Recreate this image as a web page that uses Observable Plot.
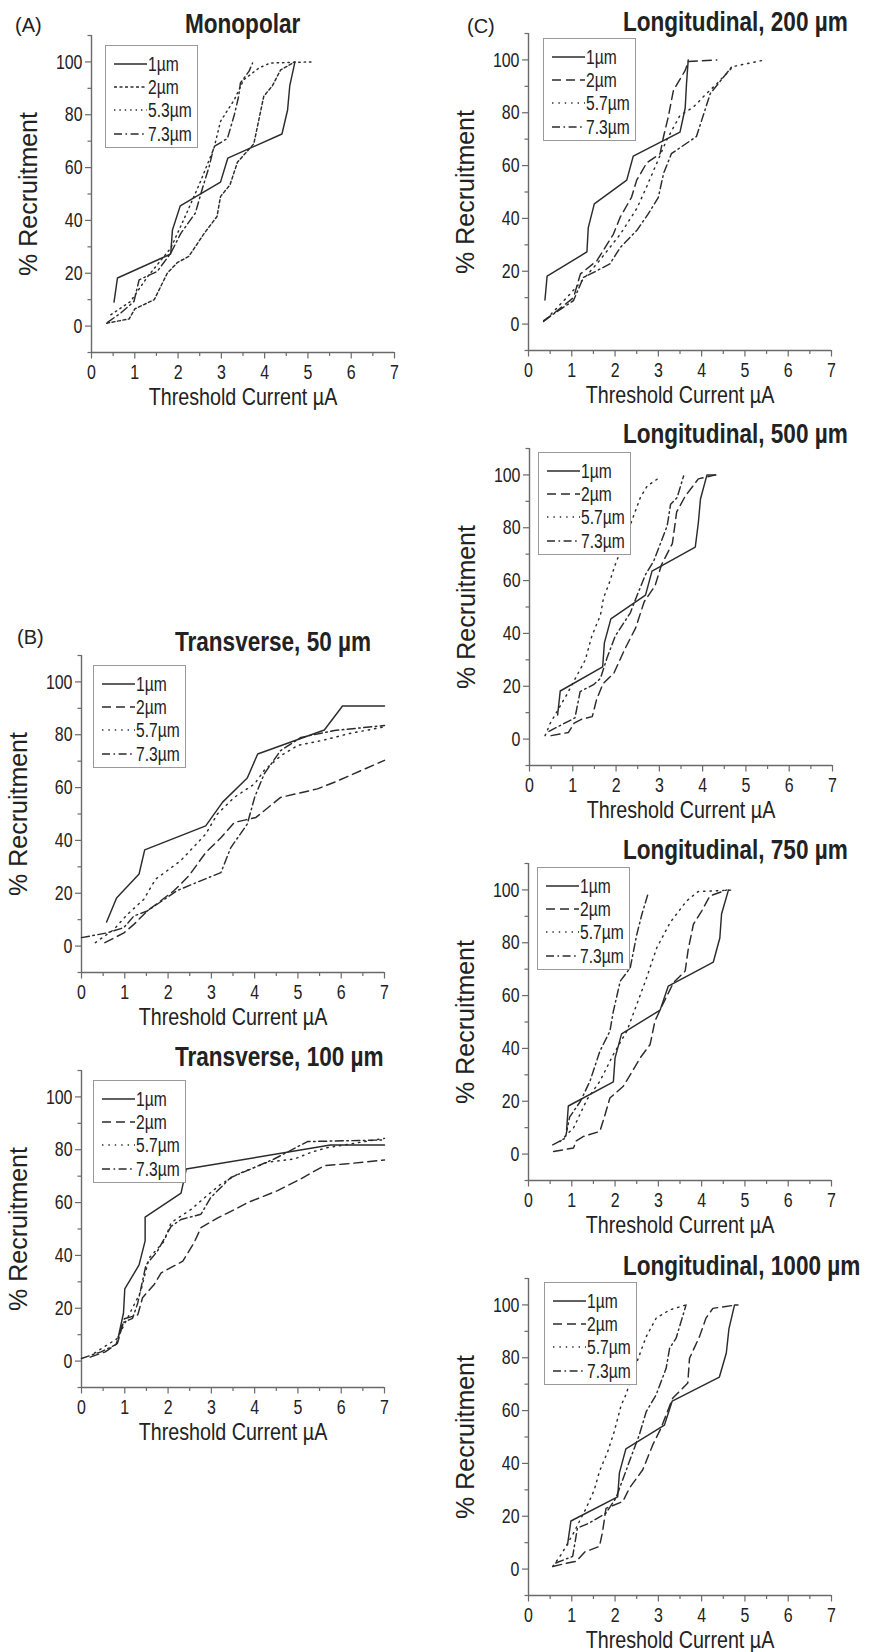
<!DOCTYPE html>
<html><head><meta charset="utf-8">
<script src="https://cdn.jsdelivr.net/npm/d3@7"></script>
<script src="https://cdn.jsdelivr.net/npm/@observablehq/plot@0.6"></script>
<style>
body{margin:0;background:#fff;}
#page{position:relative;width:874px;height:1652px;overflow:hidden;background:#fff;}
.t{position:absolute;white-space:nowrap;line-height:1;color:#222;font-family:"Liberation Sans",Arial,Helvetica,sans-serif;}
.leg{position:absolute;border:1.5px solid #9a9a9a;box-sizing:border-box;background:#fff;}
.plot{position:absolute;}
</style></head><body><div id="page"></div><script>
// ---------- tick values ----------
const xMajor = [0,1,2,3,4,5,6,7];
const xMinor = [0.5,1.5,2.5,3.5,4.5,5.5,6.5];
const yMajor = [0,20,40,60,80,100];
const yMinor = [-10,10,30,50,70,90,110];

// ---------- legend labels ----------
const monoLabels = ["1µm","2µm","5.3µm","7.3µm"];
const otherLabels = ["1µm","2µm","5.7µm","7.3µm"];

// ---------- data: [threshold current µA, % recruitment] ----------
const mono_1 = [[0.52,9.1],[0.6,18.2],[1.83,27.3],[1.87,36.4],[2.05,45.5],[2.98,54.5],[3.15,63.6],[4.4,72.7],[4.53,81.8],[4.58,90.9],[4.7,100]];
const mono_2 = [[0.35,1.1],[0.87,2.7],[1.0,6.5],[1.45,10],[1.75,20],[1.98,24],[2.25,26.4],[2.6,35],[2.9,41.5],[2.98,49],[3.2,53.5],[3.37,62],[3.75,69],[3.98,87],[4.18,91],[4.37,97],[4.7,100]];
const mono_53 = [[0.45,4.3],[0.9,9.3],[1.3,18.8],[1.83,29.5],[2.2,42.8],[2.52,54.8],[2.83,67.4],[2.98,77.5],[3.3,85.7],[3.52,93.3],[3.87,97.7],[4.13,99.6],[5.1,100]];
const mono_73 = [[0.37,1.4],[0.68,5],[0.98,9.3],[1.1,17.5],[1.52,20.7],[1.83,27.6],[2.06,35],[2.4,42.8],[2.56,52],[2.72,60.5],[2.83,68],[3.14,71],[3.3,80],[3.4,87],[3.44,92],[3.64,96.5],[3.72,99.6]];

const t50_1 = [[0.58,9.1],[0.81,18.2],[1.33,27.3],[1.46,36.4],[2.87,45.5],[3.26,54.5],[3.83,63.6],[4.07,72.7],[5.61,81.8],[6.03,90.9],[7,90.9]];
const t50_2 = [[0.54,1.3],[0.98,5],[1.21,8.2],[1.52,13.3],[2.14,21],[2.48,26.6],[2.87,35.4],[3.22,41],[3.53,46.8],[4.03,48.7],[4.6,56.3],[5.45,59.5],[5.84,62],[7,70.3]];
const t50_57 = [[0.32,1.3],[0.75,6.3],[1.06,12],[1.44,17.7],[1.71,25.3],[2.29,32.3],[2.87,42.4],[3.14,50],[3.53,56.3],[4.0,61.4],[4.22,66.5],[4.6,72],[5.0,76],[5.6,78],[6.2,80.5],[7,83]];
const t50_73 = [[0,3.2],[0.59,5],[0.98,7],[1.21,11.4],[1.52,13.3],[2.21,21],[2.75,24.7],[3.22,27.8],[3.45,37.3],[3.83,46.2],[4.0,56.3],[4.22,65.2],[4.6,74],[5.07,79],[5.84,81.6],[7,83.5]];

const t100_1 = [[0.85,9.1],[0.97,18.2],[1.0,27.3],[1.33,36.4],[1.47,45.5],[1.47,54.5],[2.3,63.6],[2.42,72.7],[5.75,81.8],[7,81.8]];
const t100_2 = [[0.2,1.5],[0.55,3.5],[0.83,6.7],[0.99,16],[1.3,17.5],[1.41,24],[1.68,29],[1.84,33.4],[2.34,37.8],[2.6,44.8],[2.76,50.5],[3.16,54.3],[3.55,57.5],[3.84,60],[4.53,64.5],[5.07,69],[5.61,74],[6.08,74.6],[7,76.1]];
const t100_57 = [[0.3,3],[0.83,8.6],[1.06,16.2],[1.37,26.4],[1.56,39],[1.91,45.4],[2.07,52.4],[2.54,57.5],[2.76,60.7],[3.22,67],[3.61,70.8],[4.3,75.3],[4.92,76.5],[5.3,79],[5.65,80.7],[7,84.3]];
const t100_73 = [[0,1],[0.45,3.5],[0.8,6.3],[0.95,14.5],[1.18,16.2],[1.3,22],[1.49,36.4],[1.75,41.5],[2.07,51],[2.3,53.6],[2.76,55.6],[2.99,62],[3.45,69.5],[3.91,72.7],[4.45,76.5],[4.92,80.5],[5.22,83.1],[7,83.7]];

const l200_1 = [[0.38,9.1],[0.43,18.2],[1.35,27.3],[1.38,36.4],[1.52,45.5],[2.27,54.5],[2.42,63.6],[3.5,72.7],[3.62,81.8],[3.65,90.9],[3.69,100]];
const l200_2 = [[0.35,1],[1.04,10],[1.2,19],[1.58,24],[1.96,34],[2.12,40.5],[2.38,48],[2.5,54.5],[2.73,61],[3.04,64.5],[3.12,71],[3.23,78.5],[3.35,88.6],[3.62,96],[3.69,99.4],[4.35,100]];
const l200_57 = [[0.42,2],[0.96,11.4],[1.58,22.8],[2.12,34],[2.5,43.7],[2.73,52],[2.96,60.8],[3.19,69.6],[3.5,79],[3.8,82],[4.08,86.7],[4.35,91],[4.73,97.5],[5.46,100]];
const l200_73 = [[0.35,1.3],[1.04,8.9],[1.27,17.7],[1.58,20.2],[1.88,22.8],[2.12,29],[2.5,35.4],[2.77,41.8],[3.0,48],[3.12,57],[3.3,64.5],[3.88,71],[4.2,87.3],[4.58,95],[4.7,97.5]];

const l500_1 = [[0.65,9.1],[0.71,18.2],[1.69,27.3],[1.73,36.4],[1.88,45.5],[2.68,54.5],[2.83,63.6],[3.83,72.7],[3.9,81.8],[3.95,90.9],[4.1,100],[4.3,100]];
const l500_2 = [[0.5,1.3],[0.9,2.5],[1.03,6],[1.2,7.5],[1.45,8.5],[1.55,15],[1.7,21],[1.95,25],[2.2,34],[2.45,42],[2.65,52],[2.9,58],[3.05,66],[3.3,74],[3.4,86],[3.6,92],[3.9,98.5],[4.3,100]];
const l500_57 = [[0.36,1.3],[0.48,6],[0.86,16.8],[1.06,23],[1.29,30],[1.44,39],[1.64,47],[1.71,53.5],[1.83,58.5],[1.98,66],[2.25,77.5],[2.56,91.4],[2.72,95.8],[2.95,98.4]];
const l500_73 = [[0.45,2.9],[0.75,5.5],[1.05,8],[1.17,18],[1.48,20.6],[1.64,23],[1.79,30.7],[1.98,39],[2.33,47.8],[2.5,55],[2.68,62.3],[2.87,67.4],[3.18,80.7],[3.26,88.9],[3.41,91.4],[3.56,99.6]];

const l750_1 = [[0.88,9.1],[0.92,18.2],[1.96,27.3],[2.0,36.4],[2.15,45.5],[3.04,54.5],[3.23,63.6],[4.27,72.7],[4.42,81.8],[4.46,90.9],[4.62,100]];
const l750_2 = [[0.58,1],[1.04,2.3],[1.1,5],[1.27,6.7],[1.65,8.6],[1.77,15],[1.88,21.2],[2.19,25.7],[2.35,30],[2.58,36.4],[2.81,41.5],[2.92,50.3],[3.08,56],[3.35,64.9],[3.62,69.3],[3.69,77.5],[3.81,87],[4.0,92],[4.19,97.7],[4.58,100]];
const l750_57 = [[0.73,4.8],[1.04,9.9],[1.35,20.6],[1.65,27.6],[1.96,37.7],[2.27,46.5],[2.5,56.6],[2.73,66.8],[2.96,78],[3.27,87.6],[3.65,95.8],[3.92,99.4],[4.77,100]];
const l750_73 = [[0.56,3.5],[0.85,6],[0.95,14],[1.2,20],[1.42,27.6],[1.65,39],[1.88,46.5],[1.96,54],[2.12,65.5],[2.35,70.5],[2.5,83],[2.62,90.8],[2.77,99]];

const l1000_1 = [[0.9,9.1],[0.98,18.2],[2.06,27.3],[2.1,36.4],[2.25,45.5],[3.14,54.5],[3.32,63.6],[4.41,72.7],[4.57,81.8],[4.63,90.9],[4.76,100],[4.84,100]];
const l1000_2 = [[0.56,1],[0.9,2.3],[1.1,2.9],[1.3,6.5],[1.64,8.6],[1.71,14],[1.79,23],[2.18,25.6],[2.33,30.6],[2.64,37.6],[2.87,47],[3.06,53.3],[3.33,64.7],[3.68,70.4],[3.72,79.8],[3.95,88],[4.1,95],[4.26,98.7],[4.8,100]];
const l1000_57 = [[0.56,1],[0.75,5.4],[1.02,13],[1.33,23],[1.52,30],[1.64,37],[1.83,44.5],[1.98,52],[2.14,62],[2.25,66],[2.45,76],[2.72,88],[2.95,95],[3.26,98.1],[3.64,100]];
const l1000_73 = [[0.63,2.3],[1.02,4.8],[1.13,15.5],[1.4,17.4],[1.79,21.2],[2.02,26.9],[2.33,40.7],[2.56,50.8],[2.72,59.6],[2.95,66],[3.18,76],[3.26,83.6],[3.41,87.4],[3.64,100]];

// ---------- styles ----------
const LINE = "#2b2b2b";
const AXC = "#6a6a6a";
const dashMono = [null, "3,2.5", "1.4,4", "8,3.5,1.6,3.5"];
const dashOther = [null, "9,5", "1.4,5", "8,3.5,1.6,3.5"];
const FONT = '"Liberation Sans",Arial,Helvetica,sans-serif';
const SQ = 0.82;      // horizontal condensing of titles / labels
const SQ_TICK = 0.76; // horizontal condensing of tick labels

// ---------- layout ----------
const PW = 303, PH = 317, ML = 46, MR = 12, MT = 4, MB = 34;
const panels = [
  {series:[mono_1,mono_2,mono_53,mono_73], labels:monoLabels, dash:dashMono, ax:91, top:35,
   title:"Monopolar", tx:185, tb:33, tag:"(A)", tagx:15, tagb:32, lx:105, ly:45},
  {series:[t50_1,t50_2,t50_57,t50_73], labels:otherLabels, dash:dashOther, ax:81, top:655,
   title:"Transverse, 50 µm", tx:175, tb:651, tag:"(B)", tagx:17, tagb:644, lx:93, ly:665},
  {series:[t100_1,t100_2,t100_57,t100_73], labels:otherLabels, dash:dashOther, ax:81, top:1070,
   title:"Transverse, 100 µm", tx:175, tb:1066, lx:93, ly:1080},
  {series:[l200_1,l200_2,l200_57,l200_73], labels:otherLabels, dash:dashOther, ax:528, top:33,
   title:"Longitudinal, 200 µm", tx:623, tb:31, tag:"(C)", tagx:467, tagb:33, lx:543, ly:38},
  {series:[l500_1,l500_2,l500_57,l500_73], labels:otherLabels, dash:dashOther, ax:529, top:448,
   title:"Longitudinal, 500 µm", tx:623, tb:443, lx:538, ly:452},
  {series:[l750_1,l750_2,l750_57,l750_73], labels:otherLabels, dash:dashOther, ax:528, top:863,
   title:"Longitudinal, 750 µm", tx:623, tb:859, lx:537, ly:867},
  {series:[l1000_1,l1000_2,l1000_57,l1000_73], labels:otherLabels, dash:dashOther, ax:528, top:1278,
   title:"Longitudinal, 1000 µm", tx:623, tb:1275, lx:544, ly:1282}
];

const page = document.getElementById("page");

function text(parent, str, x, baseline, size, opts = {}) {
  const d = document.createElement("div");
  d.className = "t";
  d.textContent = str;
  d.style.fontSize = size + "px";
  d.style.fontWeight = opts.weight || "normal";
  d.style.top = (baseline - 0.8465 * size) + "px";
  d.style.left = x + "px";
  const sq = opts.squeeze ? `scaleX(${opts.squeeze})` : "";
  if (opts.anchor === "middle") {
    d.style.transformOrigin = "50% 50%";
    d.style.transform = `translateX(-50%) ${sq}`;
  } else {
    d.style.transformOrigin = "0 50%";
    d.style.transform = sq;
  }
  parent.appendChild(d);
  return d;
}

function condenseSvgText(svg, k) {
  svg.querySelectorAll("text").forEach(t => {
    const b = t.getBBox();
    const anchor = getComputedStyle(t).textAnchor;
    const ax = anchor === "end" ? b.x + b.width : anchor === "middle" ? b.x + b.width / 2 : b.x;
    const prev = t.getAttribute("transform") || "";
    t.setAttribute("transform", `${prev} translate(${ax},0) scale(${k},1) translate(${-ax},0)`);
  });
}

for (const p of panels) {
  const marks = [
    Plot.axisX({ticks: xMinor, tickSize: 4, tickFormat: () => "", stroke: AXC, strokeWidth: 1.2, label: null}),
    Plot.axisX({ticks: xMajor, tickSize: 6.5, tickPadding: 5, tickFormat: d => String(d), stroke: AXC, strokeWidth: 1.2, fill: "#222", label: null}),
    Plot.axisY({ticks: yMinor, tickSize: 3.5, tickFormat: () => "", stroke: AXC, strokeWidth: 1.2, label: null}),
    Plot.axisY({ticks: yMajor, tickSize: 6, tickPadding: 3, tickFormat: d => String(d), stroke: AXC, strokeWidth: 1.2, fill: "#222", label: null}),
    Plot.ruleX([0], {stroke: AXC, strokeWidth: 1.4}),
    Plot.ruleY([-10], {stroke: AXC, strokeWidth: 1.4})
  ];
  p.series.forEach((s, i) => {
    const opts = {x: d => d[0], y: d => d[1], stroke: LINE, strokeWidth: 1.45};
    if (p.dash[i]) opts.strokeDasharray = p.dash[i];
    marks.push(Plot.line(s, opts));
  });
  const svg = Plot.plot({
    width: ML + PW + MR, height: MT + PH + MB,
    marginLeft: ML, marginRight: MR, marginTop: MT, marginBottom: MB,
    x: {domain: [0, 7]},
    y: {domain: [-10, 110]},
    style: {fontFamily: FONT, fontSize: "21px", background: "transparent", overflow: "visible", color: "#222"},
    marks
  });
  svg.classList.add("plot");
  svg.style.left = (p.ax - ML) + "px";
  svg.style.top = (p.top - MT) + "px";
  page.appendChild(svg);
  condenseSvgText(svg, SQ_TICK);

  // axis titles
  text(page, "Threshold Current µA", p.ax + PW / 2, p.top + PH + 53, 24, {anchor: "middle", squeeze: SQ});
  const yl = document.createElement("div");
  yl.className = "t";
  yl.textContent = "% Recruitment";
  yl.style.fontSize = "25px";
  yl.style.left = (p.ax - 63) + "px";
  yl.style.top = (p.top + PH / 2) + "px";
  yl.style.transform = "translate(-50%,-50%) rotate(-90deg)";
  page.appendChild(yl);

  // panel title and tag
  text(page, p.title, p.tx, p.tb, 27.5, {weight: "bold", squeeze: SQ});
  if (p.tag) text(page, p.tag, p.tagx, p.tagb, 20);

  // legend
  const lg = document.createElement("div");
  lg.className = "leg";
  lg.style.left = p.lx + "px"; lg.style.top = p.ly + "px";
  lg.style.width = "93px"; lg.style.height = "103px";
  page.appendChild(lg);
  p.labels.forEach((lab, i) => {
    const cy = 18 + i * 23.2;
    const s = document.createElementNS("http://www.w3.org/2000/svg", "svg");
    s.setAttribute("width", "33"); s.setAttribute("height", "4");
    s.style.position = "absolute"; s.style.left = "8px"; s.style.top = (cy - 2) + "px";
    const ln = document.createElementNS("http://www.w3.org/2000/svg", "line");
    ln.setAttribute("x1", "0"); ln.setAttribute("x2", "33"); ln.setAttribute("y1", "2"); ln.setAttribute("y2", "2");
    ln.setAttribute("stroke", LINE); ln.setAttribute("stroke-width", "1.4");
    if (p.dash[i]) ln.setAttribute("stroke-dasharray", p.dash[i]);
    s.appendChild(ln);
    lg.appendChild(s);
    text(lg, lab, 42, cy + 7, 20, {squeeze: 0.78});
  });
}
</script></body></html>
